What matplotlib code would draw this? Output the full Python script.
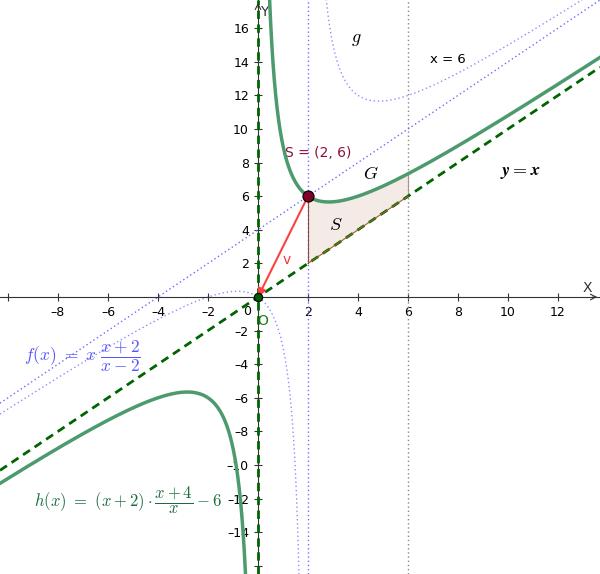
import numpy as np
import matplotlib
matplotlib.use("Agg")
import matplotlib.pyplot as plt

plt.rcParams["mathtext.fontset"] = "cm"

# view window (GeoGebra style, axes crossing at origin)
x_min, x_max = -10.32, 13.68
y_min, y_max = -16.49, 17.68

x_ticks = [-10, -8, -6, -4, -2, 2, 4, 6, 8, 10, 12]
y_ticks = [-16, -14, -12, -10, -8, -6, -4, -2, 2, 4, 6, 8, 10, 12, 14, 16]

point_S = (2, 6)
point_O = (0, 0)
region_bounds = [2, 6]
asymptote_f = 2
line_x6 = 6


def f(x):
    return x * (x + 2) / (x - 2)


def h(x):
    return (x + 2) * (x + 4) / x - 6


def tick_label(t):
    return str(t).replace("-", "\u2013")


fig = plt.figure(figsize=(6, 5.74), dpi=100)
ax = fig.add_axes([0, 0, 1, 1])
ax.set_xlim(x_min, x_max)
ax.set_ylim(y_min, y_max)

# axes through origin
for s in ["top", "right"]:
    ax.spines[s].set_visible(False)
ax.spines["left"].set_position(("data", 0))
ax.spines["bottom"].set_position(("data", 0))
ax.spines["left"].set_color("#333333")
ax.spines["bottom"].set_color("#333333")
ax.spines["left"].set_linewidth(0.8)
ax.spines["bottom"].set_linewidth(0.8)
ax.set_xticks(x_ticks)
ax.set_yticks(y_ticks)
ax.set_xticklabels(["" if t == -10 else tick_label(t) for t in x_ticks])
ax.set_yticklabels(["" if t == -16 else tick_label(t) for t in y_ticks])
ax.tick_params(direction="inout", length=6, width=0.8, colors="#333333",
               labelsize=9, labelcolor="black")
ax.text(-0.45, -0.45, "0", fontsize=9, ha="center", va="top")
ax.annotate("", xy=(x_max, 0), xytext=(x_max - 0.4, 0),
            arrowprops=dict(arrowstyle="->", color="#333333", lw=0.8))
ax.annotate("", xy=(0, y_max), xytext=(0, y_max - 0.6),
            arrowprops=dict(arrowstyle="->", color="#333333", lw=0.8))
ax.text(13.16, 0.55, "X", fontsize=10, color="#333333", ha="center", va="center")
ax.text(0.25, 16.95, "Y", fontsize=10, color="#333333", ha="center", va="center")

# vertical lines x = 2 and x = 6
ax.axvline(asymptote_f, color="#7070ff", lw=1, ls=(0, (1, 2)))
ax.axvline(line_x6, color="#888888", lw=1, ls=(0, (1, 2)))

# shaded region between h and y = x
xr = np.linspace(region_bounds[0], region_bounds[1], 200)
ax.fill_between(xr, xr, h(xr), color="#f4ebe6", lw=0, zorder=1)
ax.plot([2, 2], [2, h(2.0)], color="#8a4a40", lw=0.8, zorder=2)
ax.plot([6, 6], [6, h(6.0)], color="#b09090", lw=0.8, zorder=2)

# f and its asymptote
xs = np.linspace(x_min, x_max, 400)
ax.plot(xs, xs + 4, color="#6a6aff", lw=1, ls=(0, (1, 2)), zorder=2)
x_lo = np.linspace(x_min, 1.999, 800)
x_hi = np.linspace(2.001, x_max, 800)
ax.plot(x_lo, f(x_lo), color="#8c8cff", lw=1, ls=(0, (1, 2)), zorder=2)
ax.plot(x_hi, f(x_hi), color="#8c8cff", lw=1, ls=(0, (1, 2)), zorder=2)

# y = x and y-axis dashed
ax.plot(xs, xs, color="#006400", lw=2, ls=(0, (3, 2)), zorder=3)
ax.plot(xr, xr, color="#a0602a", lw=0.8, zorder=3)
ax.plot([0, 0], [y_min, y_max], color="#006400", lw=2, ls=(0, (3, 2)), zorder=3)

# h branches
h_neg = np.linspace(x_min, -0.35, 600)
h_pos = np.linspace(0.35, x_max, 800)
ax.plot(h_neg, h(h_neg), color="#4c9a6e", lw=2.5, zorder=4)
ax.plot(h_pos, h(h_pos), color="#4c9a6e", lw=2.5, zorder=4)

# vector v
ax.annotate("", xy=point_O, xytext=point_S,
            arrowprops=dict(arrowstyle="-|>", color="#ff4040", lw=1.5,
                            mutation_scale=12, shrinkA=0, shrinkB=0),
            zorder=5)

# points
ax.plot(*point_S, "o", ms=8, mfc="#7f0028", mec="black", mew=0.8, zorder=6)
ax.plot(*point_O, "o", ms=6, mfc="#005a00", mec="black", mew=0.8, zorder=6)

# labels
ax.text(2.4, 8.55, "S = (2, 6)", color="#8b1040", fontsize=10, ha="center", va="center")
ax.text(1.15, 2.2, "v", color="#ff3030", fontsize=10, ha="center", va="center")
ax.text(0.2, -1.4, "O", color="#1a7a1a", fontsize=10, ha="center", va="center")
ax.text(4.5, 7.3, "$G$", fontsize=13, ha="center", va="center")
ax.text(3.1, 4.3, "$S$", fontsize=13, ha="center", va="center")
ax.text(3.95, 15.35, "$g$", fontsize=13, ha="center", va="center")
ax.text(7.6, 14.15, "x = 6", fontsize=9.5, ha="center", va="center")
ax.text(10.5, 7.45, r"$\boldsymbol{y = x}$", fontsize=13, ha="center", va="center")
ax.text(-9.35, -3.5, r"$f(x)\ =\ x\ \dfrac{x+2}{x-2}$", color="#5555ff",
        fontsize=12.5, ha="left", va="center")
ax.text(-8.95, -12.1, r"$h(x)\ =\ (x+2)\cdot\dfrac{x+4}{x}-6$", color="#1a6e3c",
        fontsize=12, ha="left", va="center")

fig.savefig("out.png", dpi=100)
